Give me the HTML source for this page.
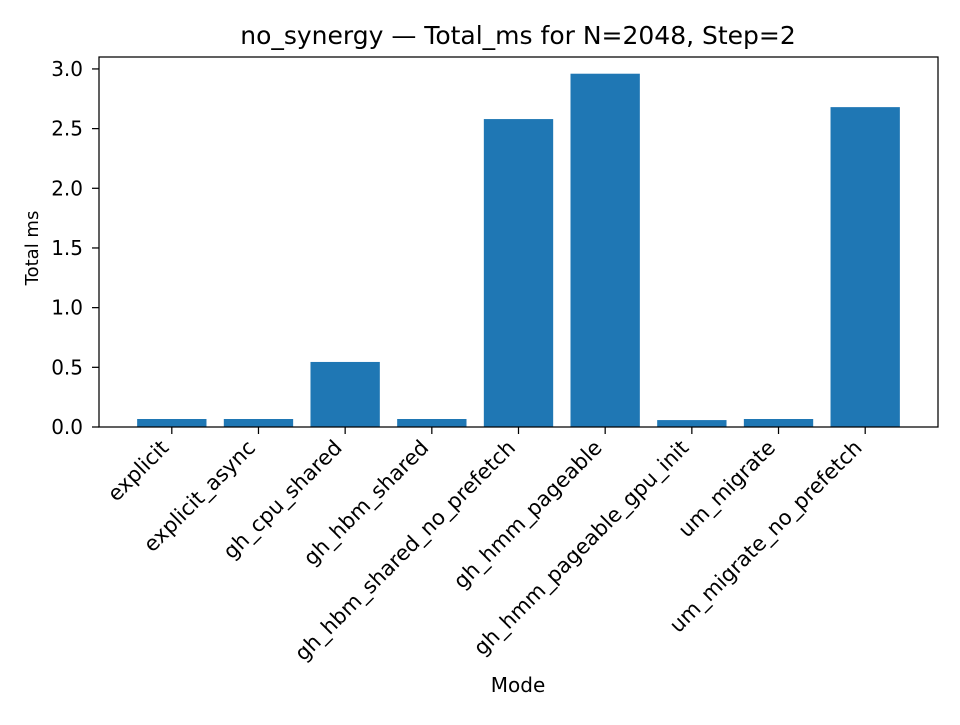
<!DOCTYPE html>
<html><head><meta charset="utf-8"><style>
body{margin:0;background:#fff;}
svg text{font-family:"DejaVu Sans","Liberation Sans",sans-serif;fill:#000;}
</style></head><body>
<svg id="chart" width="960" height="720" xmlns="http://www.w3.org/2000/svg">
<rect width="960" height="720" fill="#fff"/>
<text x="518" y="44" text-anchor="middle" font-size="25">no_synergy — Total_ms for N=2048, Step=2</text>
<g id="bars"></g>
<g id="yaxis"></g>
<g id="xaxis"></g>
<rect x="99" y="57" width="839" height="370" fill="none" stroke="#000" stroke-width="1.25"/>
<text x="518" y="692" text-anchor="middle" font-size="20">Mode</text>
<text transform="translate(38,248) rotate(-90)" text-anchor="middle" font-size="18">Total ms</text>
</svg>
<script>
const categories=["explicit","explicit_async","gh_cpu_shared","gh_hbm_shared","gh_hbm_shared_no_prefetch","gh_hmm_pageable","gh_hmm_pageable_gpu_init","um_migrate","um_migrate_no_prefetch"];
const values=[0.067,0.067,0.545,0.067,2.58,2.96,0.058,0.067,2.68];
const yTicks=[0,0.5,1.0,1.5,2.0,2.5,3.0];
const yTickLabels=["0.0","0.5","1.0","1.5","2.0","2.5","3.0"];
const NS="http://www.w3.org/2000/svg";
const L=99,R=938,T=57,B=427;
const xmin=-0.84,xmax=categories.length-1+0.84;
const ymin=0,ymax=3.1;
function x(i){return L+(i-xmin)/(xmax-xmin)*(R-L);}
function y(v){return B-(v-ymin)/(ymax-ymin)*(B-T);}
function mk(t,a,p){const e=document.createElementNS(NS,t);for(const k in a)e.setAttribute(k,a[k]);p.appendChild(e);return e;}
const bw=0.8*(R-L)/(xmax-xmin);
const gb=document.getElementById('bars'),gy=document.getElementById('yaxis'),gx=document.getElementById('xaxis');
values.forEach((v,i)=>{
 const r=mk('rect',{x:x(i)-bw/2,y:y(v),width:bw,height:B-y(v),fill:'#1f77b4'},gb);
 
 
});
yTicks.forEach((t,i)=>{
 const l=mk('line',{x1:L-7,x2:L,y1:y(t),y2:y(t),stroke:'#000','stroke-width':1.25},gy);
 
 
 const tx=mk('text',{x:L-16,y:y(t)+7,'text-anchor':'end','font-size':20},gy);
 tx.textContent=yTickLabels[i];
 
 
});
categories.forEach((c,i)=>{
 const l=mk('line',{x1:x(i),x2:x(i),y1:B,y2:B+7,stroke:'#000','stroke-width':1.25},gx);
 
 
 const tx=mk('text',{x:0,y:0,'text-anchor':'end','font-size':21,transform:`translate(${x(i)-2},${B+22}) rotate(-45)`},gx);
 tx.textContent=c;
 
 
});
</script>
</body></html>
